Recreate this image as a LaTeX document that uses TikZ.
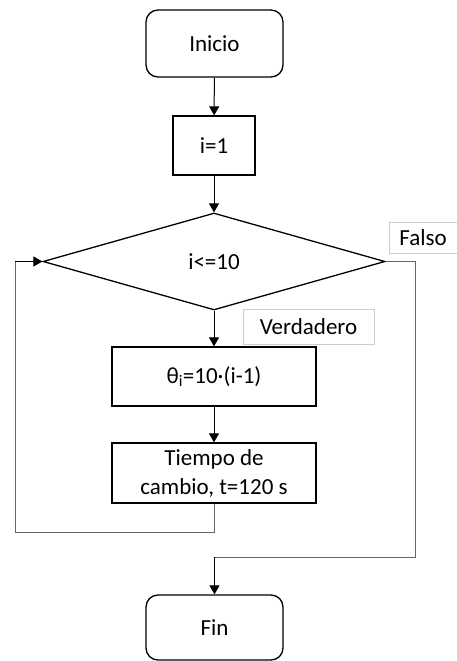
\documentclass[tikz,border=0pt]{standalone}
\usepackage{fontspec}
\setmainfont{Carlito}
\usetikzlibrary{shapes.geometric,arrows.meta}
\begin{document}
\begin{tikzpicture}[x=1pt,y=-1pt,
  every node/.style={font=\fontsize{23}{29}\selectfont, inner sep=0pt, align=center},
  box/.style={draw=black, line width=1.3pt, rectangle},
  term/.style={draw=black, line width=1.3pt, rectangle, rounded corners=12pt},
  decis/.style={draw=black, line width=1.3pt, diamond, aspect=3.53},
  lbl/.style={draw=black!20, line width=0.8pt, rectangle},
  arr/.style={draw=black, line width=1pt, -{Triangle[length=9pt,width=10pt]}},
  lin/.style={draw=black!60, line width=1pt}
]
\useasboundingbox (0,0) rectangle (457,661);
\node[term, minimum width=137pt, minimum height=67pt] (ini) at (214.5,43.5) {Inicio};
\node[box, minimum width=82pt, minimum height=59pt] (i1) at (214,145.5) {i=1};
\node[decis, minimum width=342pt, minimum height=97pt] (dec) at (214,261.5) {i<=10};
\node[box, minimum width=204pt, minimum height=59pt] (th) at (214,376.5) {θ\textsubscript{i}=10·(i-1)};
\node[box, minimum width=204pt, minimum height=60pt] (ti) at (214,473) {Tiempo de\\cambio, t=120 s};
\node[term, minimum width=137pt, minimum height=65pt] (fin) at (214.5,627.5) {Fin};
\node[lbl, minimum width=68pt, minimum height=31pt] (fal) at (423,237.5) {Falso};
\node[lbl, minimum width=131pt, minimum height=35pt] (ver) at (308.5,326.5) {Verdadero};
\coordinate (l1) at (214,532);
\coordinate (l2) at (15,532);
\coordinate (l3) at (15,261.5);
\coordinate (r1) at (415,261.5);
\coordinate (r2) at (415,557);
\coordinate (r3) at (214.5,557);
\draw[arr] (ini) -- (i1);
\draw[arr] (i1) -- (dec);
\draw[arr] (dec) -- (th);
\draw[arr] (th) -- (ti);
\draw[lin] (ti.south) -- (l1) -- (l2) -- (l3);
\draw[arr] (l3) -- (dec.west);
\draw[lin] (dec.east) -- (r1) -- (r2) -- (r3);
\draw[arr] (r3) -- (fin.north);
\end{tikzpicture}
\end{document}
